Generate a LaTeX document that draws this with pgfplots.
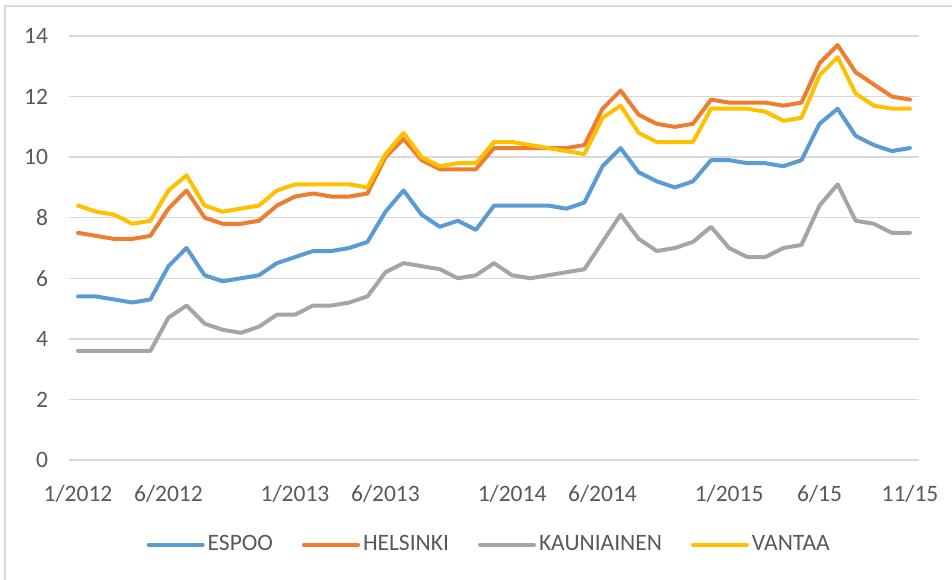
\documentclass[border=0pt]{standalone}
\usepackage{pgfplots}
\pgfplotsset{compat=1.18}
\usepackage{pgfplotstable}
\usepackage{fontspec}
\setmainfont{Carlito}

\definecolor{cEspoo}{HTML}{5B9BD5}
\definecolor{cHelsinki}{HTML}{ED7D31}
\definecolor{cKauniainen}{HTML}{A5A5A5}
\definecolor{cVantaa}{HTML}{FFC000}
\definecolor{txt}{HTML}{595959}
\definecolor{gridc}{HTML}{D9D9D9}

% month index 0 = 1/2012 ... 46 = 11/2015
\pgfplotstableread{
x  espoo helsinki kauniainen vantaa
0  5.4  7.5  3.6  8.4
1  5.4  7.4  3.6  8.2
2  5.3  7.3  3.6  8.1
3  5.2  7.3  3.6  7.8
4  5.3  7.4  3.6  7.9
5  6.4  8.3  4.7  8.9
6  7.0  8.9  5.1  9.4
7  6.1  8.0  4.5  8.4
8  5.9  7.8  4.3  8.2
9  6.0  7.8  4.2  8.3
10 6.1  7.9  4.4  8.4
11 6.5  8.4  4.8  8.9
12 6.7  8.7  4.8  9.1
13 6.9  8.8  5.1  9.1
14 6.9  8.7  5.1  9.1
15 7.0  8.7  5.2  9.1
16 7.2  8.8  5.4  9.0
17 8.2  10.0 6.2  10.1
18 8.9  10.6 6.5  10.8
19 8.1  9.9  6.4  10.0
20 7.7  9.6  6.3  9.7
21 7.9  9.6  6.0  9.8
22 7.6  9.6  6.1  9.8
23 8.4  10.3 6.5  10.5
24 8.4  10.3 6.1  10.5
25 8.4  10.3 6.0  10.4
26 8.4  10.3 6.1  10.3
27 8.3  10.3 6.2  10.2
28 8.5  10.4 6.3  10.1
29 9.7  11.6 7.2  11.3
30 10.3 12.2 8.1  11.7
31 9.5  11.4 7.3  10.8
32 9.2  11.1 6.9  10.5
33 9.0  11.0 7.0  10.5
34 9.2  11.1 7.2  10.5
35 9.9  11.9 7.7  11.6
36 9.9  11.8 7.0  11.6
37 9.8  11.8 6.7  11.6
38 9.8  11.8 6.7  11.5
39 9.7  11.7 7.0  11.2
40 9.9  11.8 7.1  11.3
41 11.1 13.1 8.4  12.7
42 11.6 13.7 9.1  13.3
43 10.7 12.8 7.9  12.1
44 10.4 12.4 7.8  11.7
45 10.2 12.0 7.5  11.6
46 10.3 11.9 7.5  11.6
}\rents

\begin{document}
\begin{tikzpicture}
\useasboundingbox (-34.5pt,-59.5pt) rectangle (441.5pt,230pt);
\draw[gridc, line width=0.8pt] (-32pt,-60pt) -- (-32pt,227pt) -- (442pt,227pt);
\begin{axis}[
  at={(0,0)}, anchor=south west,
  scale only axis, width=425pt, height=212pt,
  xmin=-0.5, xmax=46.5, ymin=0, ymax=14,
  axis line style={draw=none},
  major tick length=0pt,
  ytick={0,2,...,14}, ymajorgrids, xmajorgrids=false,
  grid style={draw=gridc, line width=0.7pt},
  xtick={0,5,12,17,24,29,36,41,46},
  xticklabels={1/2012,6/2012,1/2013,6/2013,1/2014,6/2014,1/2015,6/15,11/15},
  /pgf/number format/assume math mode=true,
  tick label style={font=\fontsize{11.75}{14}\selectfont, text=txt},
  xticklabel style={yshift=-9pt},
  yticklabel style={xshift=-7pt},
  legend columns=4,
  legend style={at={(0.495,-0.2)}, anchor=center, draw=none, fill=none,
    font=\fontsize{11.75}{14}\selectfont, text=txt,
    nodes={inner xsep=1.5pt},
    /tikz/every odd column/.append style={column sep=0pt},
    /tikz/every even column/.append style={column sep=13pt}},
  legend image code/.code={\draw[#1] (0pt,0pt) -- (27pt,0pt);},
  every axis plot/.append style={line width=2pt, line join=round, line cap=round},
]
\addplot[cEspoo] table[x=x, y=espoo] {\rents};
\addplot[cHelsinki] table[x=x, y=helsinki] {\rents};
\addplot[cKauniainen] table[x=x, y=kauniainen] {\rents};
\addplot[cVantaa] table[x=x, y=vantaa] {\rents};
\legend{ESPOO, HELSINKI, KAUNIAINEN, VANTAA}
\end{axis}
\end{tikzpicture}
\end{document}
